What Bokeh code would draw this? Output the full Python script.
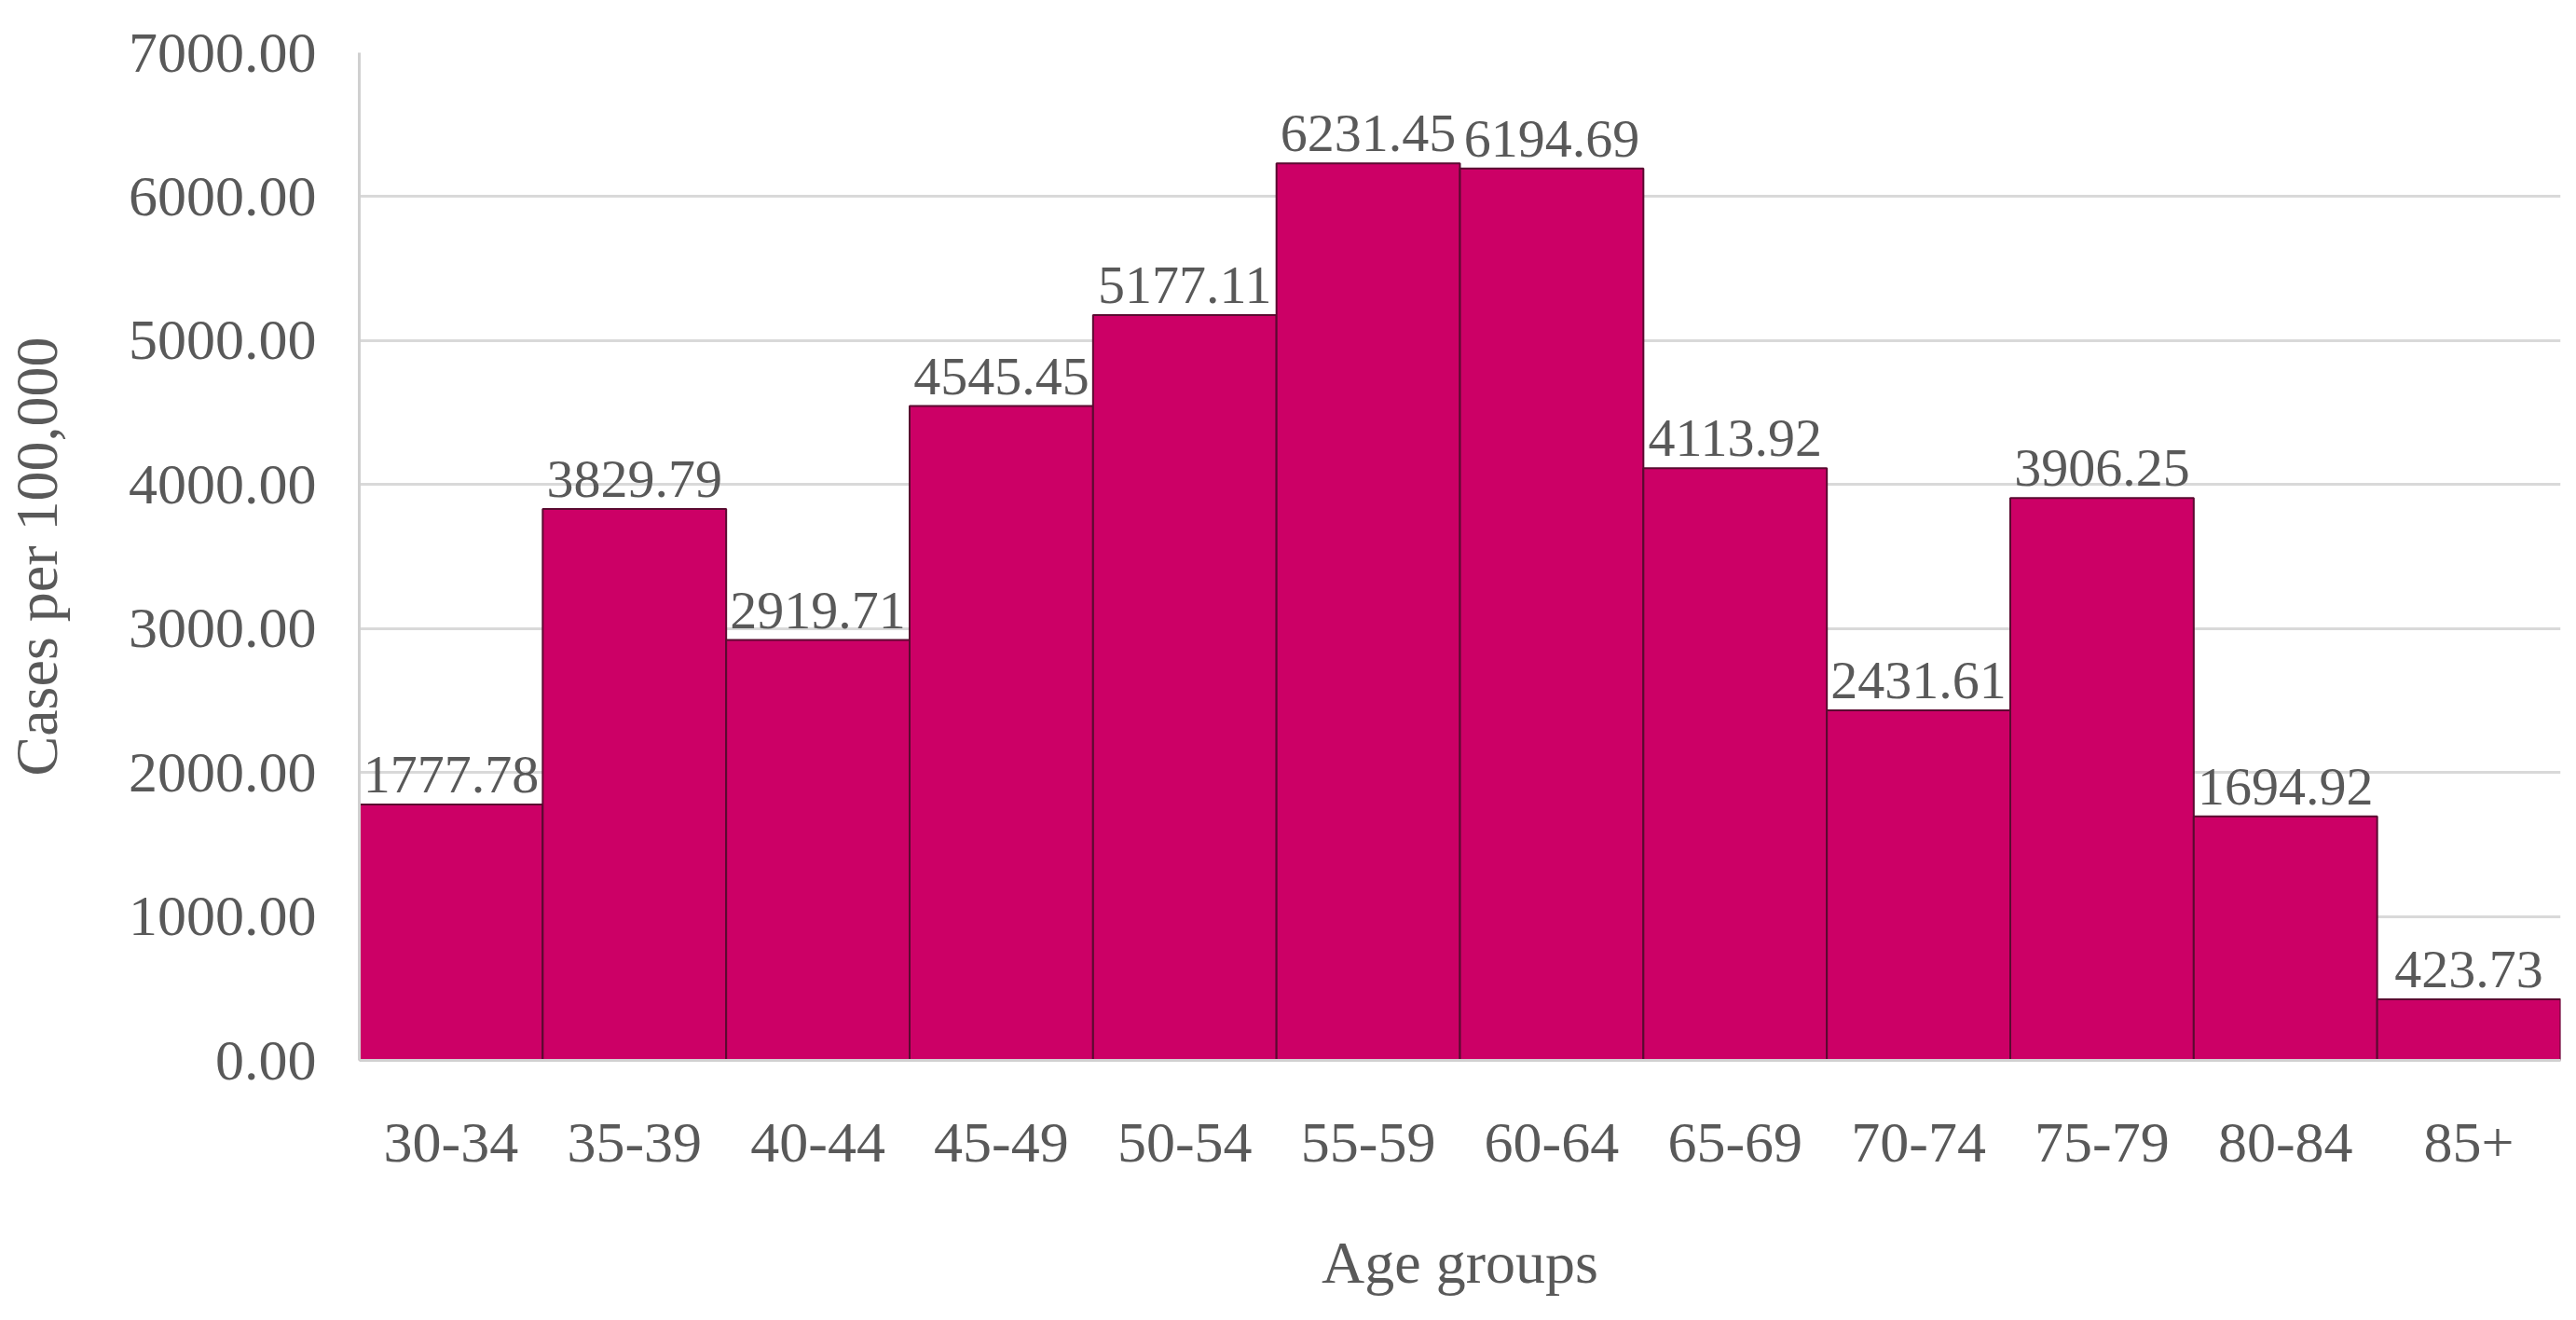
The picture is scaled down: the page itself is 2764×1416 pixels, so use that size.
from bokeh.plotting import figure
from bokeh.models import ColumnDataSource, LabelSet, FixedTicker, NumeralTickFormatter, Range1d
from bokeh.embed import file_html
from bokeh.resources import INLINE

age_groups = ["30-34", "35-39", "40-44", "45-49", "50-54", "55-59",
              "60-64", "65-69", "70-74", "75-79", "80-84", "85+"]
cases = [1777.78, 3829.79, 2919.71, 4545.45, 5177.11, 6231.45,
         6194.69, 4113.92, 2431.61, 3906.25, 1694.92, 423.73]
y_ticks = [0, 1000, 2000, 3000, 4000, 5000, 6000, 7000]

FONT = "Liberation Serif"
TXT = "#595959"

src = ColumnDataSource(dict(x=age_groups, y=cases, lab=[f"{v:.2f}" for v in cases]))

p = figure(x_range=age_groups, y_range=Range1d(0, 7000), width=2748, height=1400,
           output_backend="svg", toolbar_location=None,
           min_border_left=376, min_border_right=1, min_border_top=56, min_border_bottom=263)
p.outline_line_color = None
p.background_fill_color = "white"

p.vbar(x="x", top="y", width=1.0, source=src, fill_color="#CC0066",
       line_color="#5a0a30", line_width=2)

labels = LabelSet(x="x", y="y", text="lab", source=src, text_align="center",
                  text_baseline="alphabetic", y_offset=13, text_color=TXT,
                  text_font=FONT, text_font_size="58px")
p.add_layout(labels)

p.yaxis.ticker = FixedTicker(ticks=y_ticks)
p.yaxis.formatter = NumeralTickFormatter(format="0.00")
p.ygrid.grid_line_color = "#d9d9d9"
p.ygrid.grid_line_width = 3
p.xgrid.grid_line_color = None

for ax in (p.xaxis[0], p.yaxis[0]):
    ax.axis_line_color = "#d0d0d0"
    ax.axis_line_width = 3
    ax.major_tick_line_color = None
    ax.minor_tick_line_color = None
    ax.major_label_text_font = FONT
    ax.major_label_text_font_size = "62px"
    ax.major_label_text_color = TXT
    ax.axis_label_text_font = FONT
    ax.axis_label_text_font_size = "64px"
    ax.axis_label_text_color = TXT
    ax.axis_label_text_font_style = "normal"

p.yaxis.axis_label = "Cases per 100,000"
p.yaxis.major_label_standoff = 40
p.yaxis.axis_label_standoff = 60
p.xaxis.axis_label = "Age groups"
p.xaxis.major_label_standoff = 62
p.xaxis.axis_label_standoff = 70

open("out.html", "w").write(file_html(p, INLINE))
